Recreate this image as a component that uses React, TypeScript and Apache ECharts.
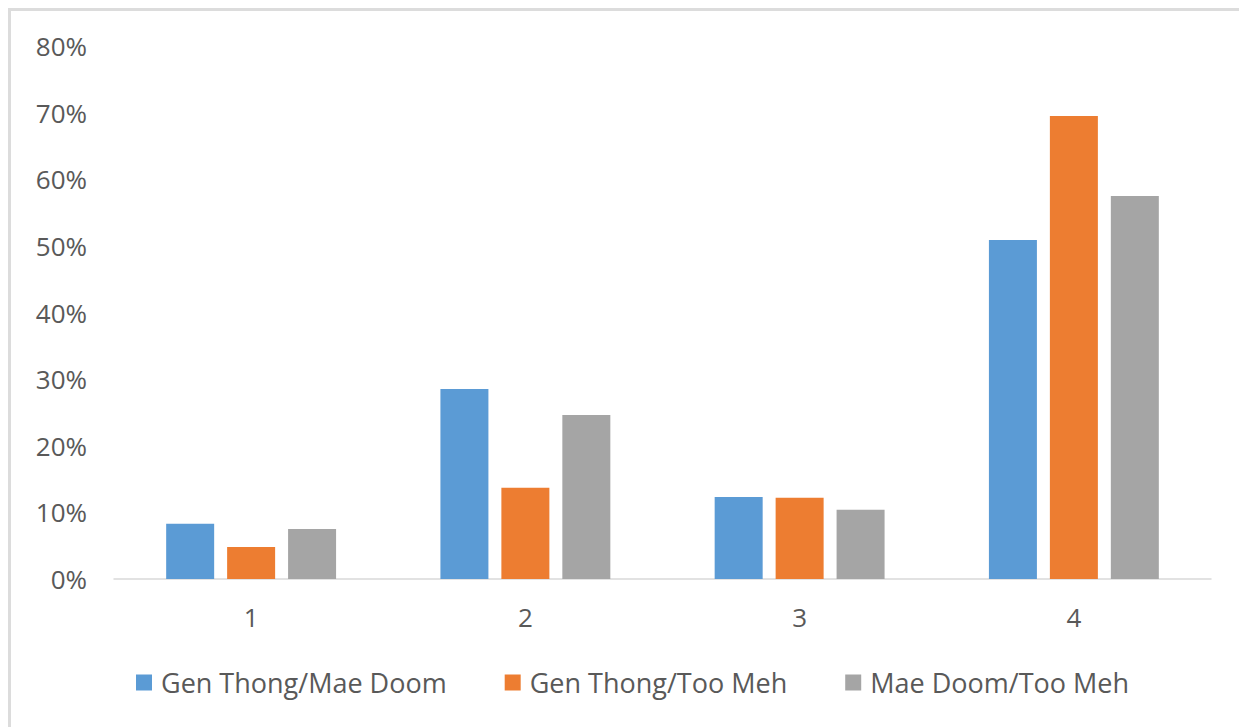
import React, { useEffect, useRef } from "react";
import * as echarts from "echarts";

const categories = ["1", "2", "3", "4"];
const seriesNames = ["Gen Thong/Mae Doom", "Gen Thong/Too Meh", "Mae Doom/Too Meh"];
const genThongMaeDoom = [0.083, 0.285, 0.123, 0.509];
const genThongTooMeh = [0.048, 0.137, 0.122, 0.695];
const maeDoomTooMeh = [0.075, 0.246, 0.104, 0.575];
const colors = ["#5B9BD5", "#ED7D31", "#A5A5A5"];

export default function App() {
  const ref = useRef<HTMLDivElement>(null);
  useEffect(() => {
    if (!ref.current) return;
    const chart = echarts.init(ref.current, undefined, { renderer: "svg" });
    const data = [genThongMaeDoom, genThongTooMeh, maeDoomTooMeh];
    chart.setOption({
      animation: false,
      backgroundColor: "transparent",
      color: colors,
      grid: { left: 103, right: 28, top: 35, bottom: 148, containLabel: false },
      legend: {
        left: 120,
        top: 653,
        itemWidth: 16,
        itemHeight: 16,
        itemGap: 58,
        icon: "rect",
        textStyle: { fontFamily: "Open Sans", fontSize: 27, color: "#595959", padding: [0, 0, 0, 4] },
        data: seriesNames,
      },
      xAxis: {
        type: "category",
        data: categories,
        axisLine: { lineStyle: { color: "#d9d9d9", width: 1.5 } },
        axisTick: { show: false },
        axisLabel: { fontFamily: "Open Sans", fontSize: 26, color: "#595959", margin: 25 },
      },
      yAxis: {
        type: "value",
        min: 0,
        max: 0.8,
        interval: 0.1,
        splitLine: { show: false },
        axisLine: { show: false },
        axisTick: { show: false },
        axisLabel: {
          fontFamily: "Open Sans",
          fontSize: 26,
          color: "#595959",
          margin: 27,
          formatter: (v: number) => Math.round(v * 100) + "%",
        },
      },
      series: seriesNames.map((name, i) => ({
        name,
        type: "bar",
        data: data[i],
        barWidth: 48,
        barGap: "27%",
        itemStyle: { color: colors[i] },
      })),
    });
    return () => chart.dispose();
  }, []);
  return (
    <div
      style={{
        position: "absolute",
        left: 8,
        top: 8,
        width: 1228,
        height: 716,
        overflow: "hidden",
        borderTop: "3px solid #dcdcdc",
        borderLeft: "3px solid #dcdcdc",
        background: "#fff",
      }}
    >
      <div ref={ref} style={{ width: 1228, height: 716 }} />
    </div>
  );
}
